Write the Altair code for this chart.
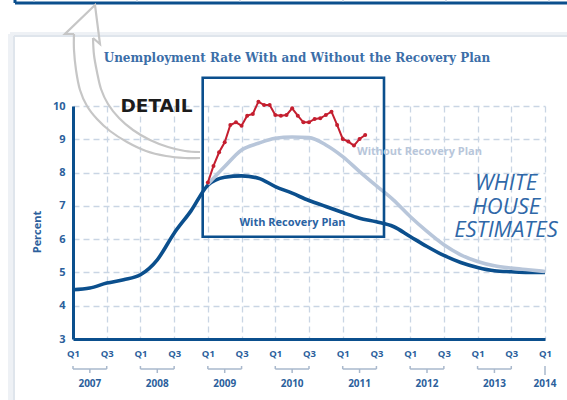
import altair as alt
import pandas as pd

# ---------------- data (months counted from Jan 2007) ----------------
quarter_months = list(range(0, 85, 3))
with_plan = [4.48, 4.53, 4.68, 4.78, 4.93, 5.38, 6.18, 6.85, 7.62, 7.86,
             7.90, 7.83, 7.58, 7.38, 7.16, 6.98, 6.80, 6.63, 6.52, 6.38,
             6.08, 5.78, 5.51, 5.30, 5.15, 5.05, 5.02, 5.00, 5.00]

without_months = list(range(24, 85, 3))
without_plan = [7.65, 8.18, 8.68, 8.88, 9.03, 9.07, 9.05, 8.83, 8.48, 8.03,
                7.60, 7.18, 6.68, 6.23, 5.83, 5.53, 5.33, 5.20, 5.13, 5.08, 5.03]

actual_months = list(range(24, 53))
actual_rate = [7.70, 8.20, 8.61, 8.91, 9.43, 9.51, 9.41, 9.71, 9.76, 10.13,
               10.03, 10.03, 9.73, 9.71, 9.73, 9.93, 9.71, 9.51, 9.51, 9.61,
               9.63, 9.73, 9.83, 9.43, 9.01, 8.93, 8.81, 9.01, 9.13]

tick_months = list(range(0, 85, 6))
y_ticks = [3, 4, 5, 6, 7, 8, 9, 10]
year_labels = ["2007", "2008", "2009", "2010", "2011", "2012", "2013"]
year_start_months = [0, 12, 24, 36, 48, 60, 72]
last_year_label = "2014"
last_year_month = 84

# ---------------- styling / layout ----------------
DARK = "#0b4f8d"
LIGHT = "#b8c6da"
RED = "#c41e2f"
LABEL = "#2c5f9c"
GRID = "#c9d5e4"
ARROW = "#c6c6c6"

W, H = 472, 233          # plot area
PL, PT = 73, 106         # plot offset inside the 567x400 page
XMAX, YMIN, YMAX = 84, 3, 10

def mx(px):              # page pixel -> month (annotation geometry only)
    return (px - PL) * XMAX / W

def py(pyv):             # page pixel -> percent (annotation geometry only)
    return YMAX - (pyv - PT) * (YMAX - YMIN) / H

xs = alt.Scale(domain=[0, XMAX], nice=False, zero=False)
ys = alt.Scale(domain=[YMIN, YMAX], nice=False, zero=False)

x_axis = alt.Axis(values=tick_months, title=None, ticks=False,
                  labelExpr="datum.value % 12 == 0 ? 'Q1' : 'Q3'",
                  labelFont="Open Sans", labelFontWeight="bold", labelFontSize=9.5,
                  labelColor=LABEL, labelPadding=9, labelFlush=False,
                  labelOverlap=False, domainColor=DARK, domainWidth=3,
                  grid=True, gridColor=GRID, gridDash=[6, 4], gridWidth=1.3)
y_axis = alt.Axis(values=y_ticks, title=None, ticks=False,
                  labelFont="Open Sans", labelFontWeight="bold", labelFontSize=11,
                  labelColor=LABEL, labelPadding=8, domainColor=DARK, domainWidth=3,
                  grid=True, gridColor=GRID, gridDash=[6, 4], gridWidth=1.3)

def X(f):
    return alt.X(f, type="quantitative", scale=xs, axis=x_axis)

def Y(f):
    return alt.Y(f, type="quantitative", scale=ys, axis=y_axis)

# ---------------- main series ----------------
df_with = pd.DataFrame({"m": quarter_months, "v": with_plan})
df_without = pd.DataFrame({"m": without_months, "v": without_plan})
df_actual = pd.DataFrame({"m": actual_months, "v": actual_rate})

with_line = alt.Chart(df_with).mark_line(color=DARK, strokeWidth=3.6,
                                         interpolate="monotone").encode(
    x=X("m"), y=Y("v"))

without_line = alt.Chart(df_without).mark_line(color=LIGHT, strokeWidth=3.6,
                                               interpolate="monotone").encode(
    x=X("m"), y=Y("v"))

actual_line = alt.Chart(df_actual).mark_line(
    color=RED, strokeWidth=2,
    point=alt.OverlayMarkDef(filled=True, size=16, color=RED)).encode(
    x=X("m"), y=Y("v"))

# ---------------- annotation geometry ----------------
box = alt.Chart(pd.DataFrame({"x": [mx(202.7)], "x2": [mx(384)],
                              "y": [py(77.7)], "y2": [py(236.7)]})).mark_rect(
    fillOpacity=0, stroke=DARK, strokeWidth=2.6).encode(
    x=X("x"), x2="x2", y=Y("y"), y2="y2")

def path_df(pts):
    return pd.DataFrame({"i": list(range(len(pts))),
                         "x": [mx(p[0]) for p in pts],
                         "y": [py(p[1]) for p in pts]})

outer = [(74, 34), (74, 50), (76, 70), (80, 90), (87, 106), (97, 119),
         (110, 131), (127, 142), (146, 151), (166, 156), (185, 158), (200, 158)]
inner = [(93, 38), (94, 55), (97, 72), (101, 89), (108, 104), (119, 118),
         (133, 130), (150, 140), (168, 147), (185, 151), (200, 152)]
head = [(74, 34), (65, 34), (95, 5), (100, 44), (93, 38)]

def arrow_part(pts, interp):
    return alt.Chart(path_df(pts)).mark_line(
        color=ARROW, strokeWidth=2.2, interpolate=interp).encode(
        x=X("x"), y=Y("y"), order="i:Q")

arrow = arrow_part(outer, "cardinal") + arrow_part(inner, "cardinal") + arrow_part(head, "linear")

def rules(rows, color, width):
    df = pd.DataFrame(rows, columns=["x", "x2", "y", "y2"])
    return alt.Chart(df).mark_rule(color=color, strokeWidth=width).encode(
        x=X("x"), x2="x2", y=Y("y"), y2="y2")

# card shadow and previous panel edge
card = (rules([(mx(10), mx(567), py(34.5), py(34.5)),
               (mx(10.5), mx(10.5), py(34), py(400))], "#eef1f5", 5)
        + rules([(mx(14), mx(567), py(36), py(36)),
                 (mx(14), mx(14), py(36), py(400))], "#dfe5ec", 2))
prev_panel = (rules([(mx(15), mx(567), py(3), py(3)),
                     (mx(15), mx(15), py(0), py(3))], DARK, 3)
              + rules([(mx(p), mx(p), py(0), py(1.5))
                       for p in [34, 137, 240, 343, 446, 549]], "#c9d5e4", 1.5))

# year brackets below the quarter labels
br = []
for m in year_start_months:
    br.append((m, m + 6, py(369), py(369)))
    br.append((m, m, py(366), py(369)))
    br.append((m + 6, m + 6, py(366), py(369)))
    br.append((m + 3, m + 3, py(369), py(373)))
br.append((last_year_month, last_year_month, py(366), py(375)))
brackets = rules(br, "#a9b8cc", 1.5)

years = alt.Chart(pd.DataFrame({
    "m": [m + 3 for m in year_start_months] + [last_year_month],
    "t": year_labels + [last_year_label]})).mark_text(
    font="Open Sans", fontWeight="bold", fontSize=10, color=LABEL,
    baseline="middle").encode(x=X("m"), y=alt.value(384 - PT), text="t:N")

def label(t, x, y, **kw):
    return alt.Chart(pd.DataFrame({"t": [t]})).mark_text(**kw).encode(
        x=alt.value(x - PL), y=alt.value(y - PT), text="t:N")

title = label("Unemployment Rate With and Without the Recovery Plan", 297, 58,
              font="DejaVu Serif", fontWeight="bold", fontSize=12, color="#3b6ea8",
              baseline="middle", align="center")
detail = label("DETAIL", 156.5, 106, font="DejaVu Sans", fontWeight="bold",
               fontSize=18.5, color="#1c1c1c", baseline="middle", align="center")
with_lbl = label("With Recovery Plan", 292.5, 223, font="Open Sans", fontWeight="bold",
                 fontSize=11, color="#2a63a3", baseline="middle", align="center")
without_lbl = label("Without Recovery Plan", 419.5, 152, font="Open Sans",
                    fontWeight="bold", fontSize=11, color=LIGHT,
                    baseline="middle", align="center")
percent = label("Percent", 38, 232, font="Open Sans", fontWeight="bold", fontSize=11,
                color=LABEL, angle=270, baseline="middle", align="center")
wh = label("WHITE\nHOUSE\nESTIMATES", 506, 190, font="Liberation Sans Narrow, Open Sans",
           fontStyle="italic", fontSize=22, color="#2f68a8", lineBreak="\n",
           lineHeight=23.5, baseline="alphabetic", align="center")

chart = alt.layer(
    card, prev_panel, with_line, without_line, box, arrow, actual_line,
    brackets, years, title, detail, with_lbl, without_lbl, percent, wh
).properties(
    width=W, height=H,
    autosize=alt.AutoSizeParams(type="none"),
    padding={"left": PL, "top": PT, "right": 567 - PL - W, "bottom": 400 - PT - H},
    background="white"
).configure_view(stroke=None)

chart.save("out.html", embed_options={"renderer": "svg", "actions": False})
